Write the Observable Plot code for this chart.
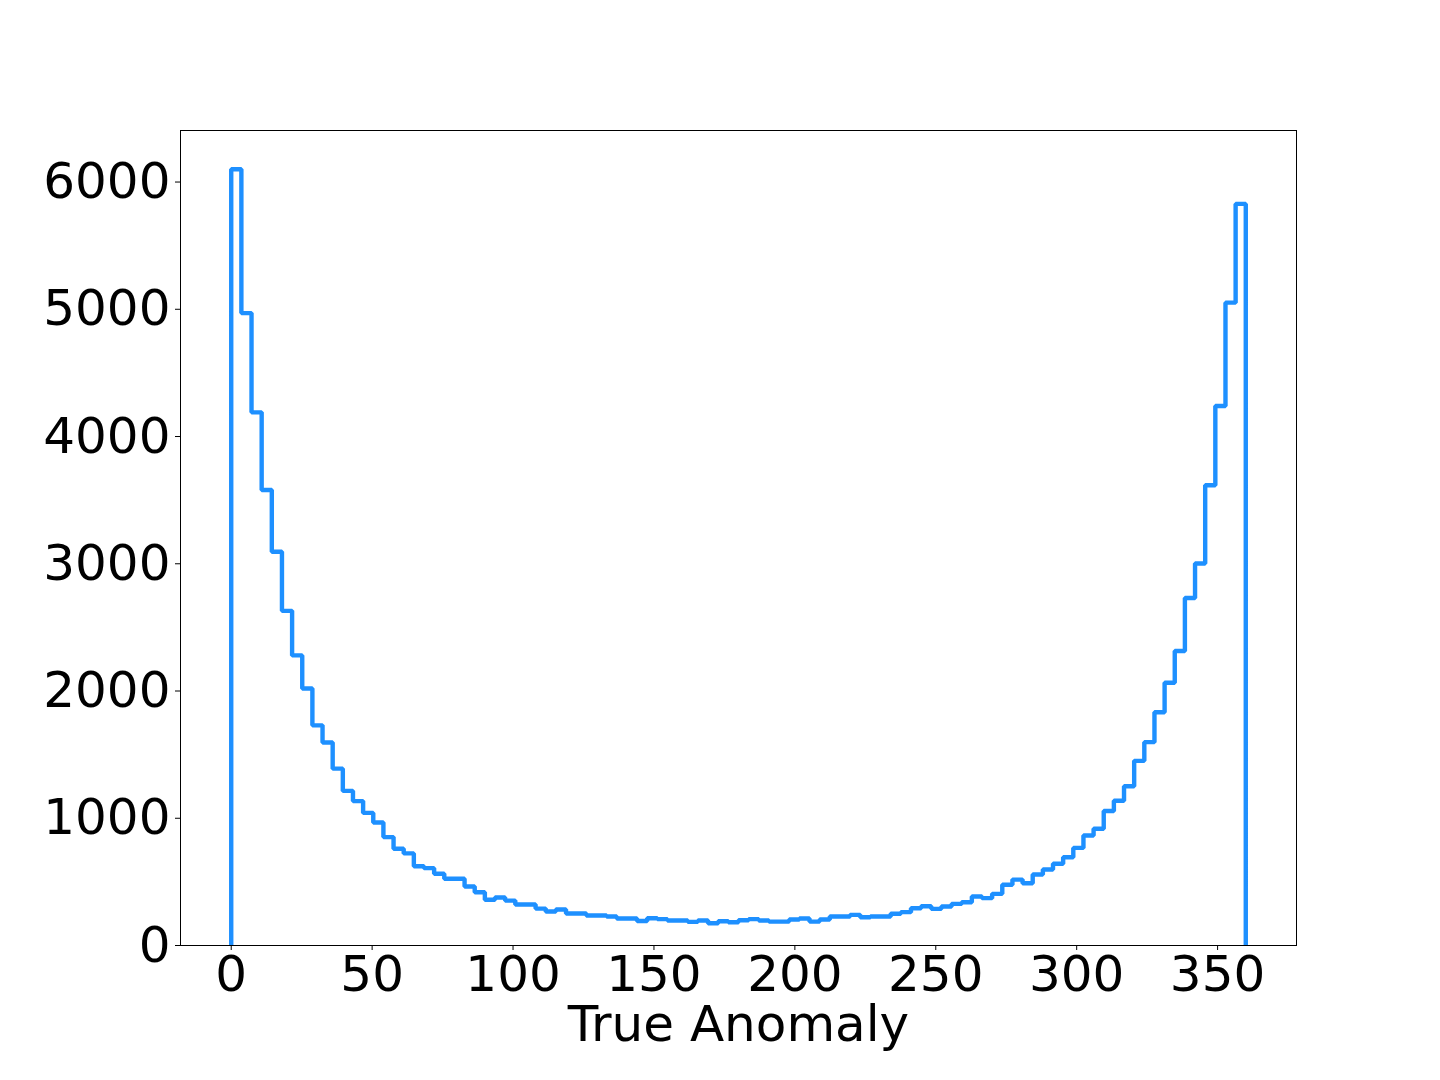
<!DOCTYPE html>
<html>
<head>
<meta charset="utf-8">
<script src="https://cdn.jsdelivr.net/npm/d3@7"></script>
<script src="https://cdn.jsdelivr.net/npm/@observablehq/plot@0.6"></script>
<style>
  html, body { margin: 0; padding: 0; background: #ffffff; }
  #chart { width: 1440px; height: 1080px; }
</style>
</head>
<body>
<div id="chart"></div>
<script>
// Histogram of true anomaly: 100 bins from 0 to 360 degrees
const binStart = 0;
const binWidth = 3.6;
const counts = [
  6100, 4970, 4190, 3580, 3095, 2630, 2280, 2020, 1730, 1595,
  1390, 1215, 1135, 1042, 967, 852, 760, 724, 623, 608,
  564, 524, 524, 464, 418, 360, 377, 353, 322, 322,
  290, 267, 283, 251, 251, 236, 236, 228, 212, 212,
  192, 214, 207, 196, 196, 186, 196, 175, 191, 183,
  199, 207, 196, 188, 188, 204, 212, 188, 204, 228,
  228, 241, 222, 228, 228, 249, 262, 293, 309, 288,
  306, 327, 340, 385, 372, 406, 477, 518, 489, 558,
  597, 642, 693, 767, 864, 918, 1057, 1137, 1251, 1451,
  1598, 1833, 2065, 2314, 2731, 3002, 3617, 4240, 5052, 5828
];
const xTicks = [0, 50, 100, 150, 200, 250, 300, 350];
const yTicks = [0, 1000, 2000, 3000, 4000, 5000, 6000];
const xLabel = "True Anomaly";

// Build step outline (matplotlib histtype="step")
const binEnd = binStart + binWidth * counts.length;
const outline = [{x: binStart, y: 0}];
counts.forEach((c, i) => outline.push({x: binStart + i * binWidth, y: c}));
outline.push({x: binEnd, y: counts[counts.length - 1]});
outline.push({x: binEnd, y: 0});

const chart = Plot.plot({
  width: 1440,
  height: 1080,
  marginLeft: 180,
  marginRight: 144,
  marginTop: 130,
  marginBottom: 135,
  style: {
    fontFamily: "'DejaVu Sans', sans-serif",
    fontSize: "50px",
    background: "#ffffff",
    color: "#000000",
    overflow: "visible"
  },
  x: {domain: [-18, 378]},
  y: {domain: [0, 6405]},
  marks: [
    Plot.line(outline, {
      x: "x", y: "y", curve: "step-after",
      stroke: "#1E90FF", strokeWidth: 4.4,
      strokeLinejoin: "miter", strokeLinecap: "butt"
    }),
    Plot.frame({stroke: "#000000", strokeWidth: 1}),
    Plot.axisX({
      ticks: xTicks, tickSize: 5, tickPadding: 5,
      tickFormat: d => String(d), label: null,
      fontSize: 50
    }),
    Plot.axisY({
      ticks: yTicks, tickSize: 5, tickPadding: 5,
      tickFormat: d => String(d), label: null,
      fontSize: 50
    }),
    Plot.text([xLabel], {
      text: d => d, frameAnchor: "bottom", dy: 95,
      fontSize: 50, fill: "#000000"
    })
  ]
});
document.getElementById("chart").appendChild(chart);
</script>
</body>
</html>
